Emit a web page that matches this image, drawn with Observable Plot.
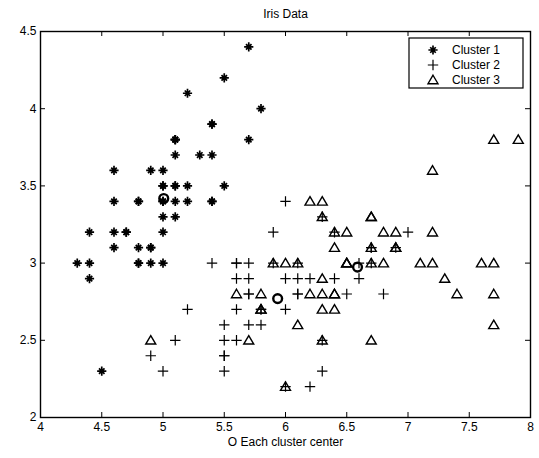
<!DOCTYPE html>
<html>
<head>
<meta charset="utf-8">
<script src="https://cdn.jsdelivr.net/npm/d3@7"></script>
<script src="https://cdn.jsdelivr.net/npm/@observablehq/plot@0.6"></script>
<style>
  html, body { margin: 0; padding: 0; background: #fff; }
  #chart { width: 539px; height: 458px; }
</style>
</head>
<body>
<div id="chart"></div>
<script>
// ---- data (sepal length, sepal width) ----
const cluster1 = [
  [5.1,3.5],[4.9,3.0],[4.7,3.2],[4.6,3.1],[5.0,3.6],[5.4,3.9],[4.6,3.4],[5.0,3.4],[4.4,2.9],[4.9,3.1],
  [5.4,3.7],[4.8,3.4],[4.8,3.0],[4.3,3.0],[5.8,4.0],[5.7,4.4],[5.4,3.9],[5.1,3.5],[5.7,3.8],[5.1,3.8],
  [5.4,3.4],[5.1,3.7],[4.6,3.6],[5.1,3.3],[4.8,3.4],[5.0,3.0],[5.0,3.4],[5.2,3.5],[5.2,3.4],[4.7,3.2],
  [4.8,3.1],[5.4,3.4],[5.2,4.1],[5.5,4.2],[4.9,3.1],[5.0,3.2],[5.5,3.5],[4.9,3.6],[4.4,3.0],[5.1,3.4],
  [5.0,3.5],[4.5,2.3],[4.4,3.2],[5.0,3.5],[5.1,3.8],[4.8,3.0],[5.1,3.8],[4.6,3.2],[5.3,3.7],[5.0,3.3]
];
const cluster2 = [
  [7.0,3.2],[6.4,3.2],[6.9,3.1],[5.5,2.3],[6.5,2.8],[5.7,2.8],[6.3,3.3],[4.9,2.4],[6.6,2.9],[5.2,2.7],
  [5.9,3.0],[6.0,2.2],[6.1,2.9],[5.6,2.9],[6.7,3.1],[5.6,3.0],[5.8,2.7],[6.2,2.2],[5.6,2.5],[5.9,3.2],
  [6.1,2.8],[6.3,2.5],[6.1,2.8],[6.4,2.9],[6.6,3.0],[6.8,2.8],[6.7,3.0],[6.0,2.9],[5.7,2.6],[5.5,2.4],
  [5.5,2.4],[5.8,2.7],[6.0,2.7],[5.4,3.0],[6.0,3.4],[6.7,3.1],[6.3,2.3],[5.6,3.0],[5.5,2.5],[5.5,2.6],
  [6.1,3.0],[5.8,2.6],[5.0,2.3],[5.6,2.7],[5.7,3.0],[5.7,2.9],[6.2,2.9],[5.1,2.5],[5.7,2.8]
];
const cluster3 = [
  [6.3,3.3],[5.8,2.7],[7.1,3.0],[6.3,2.9],[6.5,3.0],[7.6,3.0],[4.9,2.5],[7.3,2.9],[6.7,2.5],[7.2,3.6],
  [6.5,3.2],[6.4,2.7],[6.8,3.0],[5.7,2.5],[5.8,2.8],[6.4,3.2],[6.5,3.0],[7.7,3.8],[7.7,2.6],[6.0,2.2],
  [6.9,3.2],[5.6,2.8],[7.7,2.8],[6.3,2.7],[6.7,3.3],[7.2,3.2],[6.2,2.8],[6.1,3.0],[6.4,2.8],[7.2,3.0],
  [7.4,2.8],[7.9,3.8],[6.4,2.8],[6.3,2.8],[6.1,2.6],[7.7,3.0],[6.3,3.4],[6.4,3.1],[6.0,3.0],[6.9,3.1],
  [6.7,3.1],[6.9,3.1],[5.8,2.7],[6.8,3.2],[6.7,3.3],[6.7,3.0],[6.3,2.5],[6.5,3.0],[6.2,3.4],[5.9,3.0]
];
const centers = [[5.006,3.418],[5.936,2.770],[6.588,2.974]];
const legendLabels = ["Cluster 1","Cluster 2","Cluster 3"];
const xTicks = [4,4.5,5,5.5,6,6.5,7,7.5,8];
const yTicks = [2,2.5,3,3.5,4,4.5];
const titleText = "Iris Data";
const xLabelText = "O Each cluster center";

// ---- custom MATLAB-like marker symbols ----
const symPlus = {draw(c, size){ const r = Math.sqrt(size/Math.PI);
  c.moveTo(-r,0); c.lineTo(r,0); c.moveTo(0,-r); c.lineTo(0,r); }};
const symStar = {draw(c, size){ const r = Math.sqrt(size/Math.PI), d = r*0.6;
  c.moveTo(-r,0); c.lineTo(r,0); c.moveTo(0,-r); c.lineTo(0,r);
  c.moveTo(-d,-d); c.lineTo(d,d); c.moveTo(-d,d); c.lineTo(d,-d); }};
const symTri = {draw(c, size){ const r = Math.sqrt(size/Math.PI);
  c.moveTo(0,-0.95*r); c.lineTo(r,0.75*r); c.lineTo(-r,0.75*r); c.closePath(); }};

const markerDefs = [
  {sym: symStar, r: 4.6, sw: 1.7},
  {sym: symPlus, r: 5.2, sw: 1.2},
  {sym: symTri,  r: 5.0, sw: 1.4}
];

const TICK = 5;

function legendMark(index, scales, values, dims) {
  const right = dims.width - dims.marginRight - 7;
  const top = dims.marginTop + 7;
  const w = 114, h = 50;
  const left = right - w;
  const g = d3.create("svg:g");
  g.append("rect").attr("x", left).attr("y", top).attr("width", w).attr("height", h)
    .attr("fill", "white").attr("stroke", "black").attr("stroke-width", 1.2);
  legendLabels.forEach((lab, i) => {
    const cy = top + 12 + i * 15;
    const m = markerDefs[i];
    g.append("path")
      .attr("transform", `translate(${left + 24},${cy})`)
      .attr("d", d3.symbol(m.sym, m.r * m.r * Math.PI)())
      .attr("fill", "none").attr("stroke", "black").attr("stroke-width", m.sw);
    g.append("text").attr("x", left + 43).attr("y", cy).attr("dy", "0.35em")
      .attr("text-anchor", "start")
      .attr("fill", "black").attr("font-size", 12).text(lab);
  });
  return g.node();
}

const clusters = [cluster1, cluster2, cluster3];
const pointMarks = clusters.map((pts, i) => Plot.dot(pts, {
  x: d => d[0], y: d => d[1], symbol: markerDefs[i].sym, r: markerDefs[i].r,
  fill: "none", stroke: "black", strokeWidth: markerDefs[i].sw
}));

const chart = Plot.plot({
  width: 539, height: 458,
  marginLeft: 40, marginRight: 9, marginTop: 31, marginBottom: 41,
  style: {fontFamily: "'Liberation Sans', Arial, Helvetica, sans-serif", fontSize: "12px", color: "black", background: "white"},
  x: {domain: [4, 8]},
  y: {domain: [2, 4.5]},
  marks: [
    // inward ticks on all four sides
    Plot.ruleX(xTicks, {x: d => d, insetTop: 458 - 31 - 41 - TICK, stroke: "black"}),
    Plot.ruleX(xTicks, {x: d => d, insetBottom: 458 - 31 - 41 - TICK, stroke: "black"}),
    Plot.ruleY(yTicks, {y: d => d, insetRight: 539 - 40 - 9 - TICK, stroke: "black"}),
    Plot.ruleY(yTicks, {y: d => d, insetLeft: 539 - 40 - 9 - TICK, stroke: "black"}),
    Plot.axisX({ticks: xTicks, tickSize: 0, tickPadding: 5, tickFormat: d => String(d),
      label: xLabelText, labelAnchor: "center", labelArrow: "none", labelOffset: 28, fill: "black"}),
    Plot.axisY({ticks: yTicks, tickSize: 0, tickPadding: 4, tickFormat: d => String(d),
      label: null, fill: "black"}),
    ...pointMarks,
    Plot.dot(centers, {x: d => d[0], y: d => d[1], r: 4.4, fill: "none", stroke: "black", strokeWidth: 2.4}),
    Plot.frame({stroke: "black", strokeWidth: 1.4}),
    Plot.text([titleText], {frameAnchor: "top", dy: -22, fontSize: 12, fill: "black"}),
    legendMark
  ]
});
document.getElementById("chart").appendChild(chart);
</script>
</body>
</html>
